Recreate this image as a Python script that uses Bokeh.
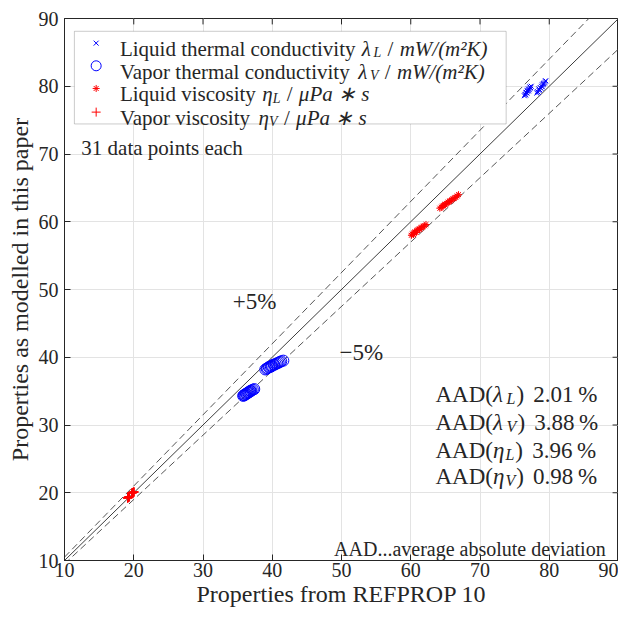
from bokeh.plotting import figure
from bokeh.models import Label, BoxAnnotation, FixedTicker
from bokeh.embed import file_html
from bokeh.resources import INLINE

# ---------------- data ----------------
ticks = [10, 20, 30, 40, 50, 60, 70, 80, 90]
line_x = [10, 90]
band_pos = 1.05
band_neg = 0.95

lam_L_ref = [76.4, 76.5, 76.6, 76.6, 76.7, 76.8, 76.8, 76.9, 77.0, 77.0, 77.1, 77.2, 77.2, 77.3, 77.4,
             78.2, 78.3, 78.4, 78.5, 78.5, 78.6, 78.7, 78.8, 78.9, 79.0, 79.0, 79.1, 79.2, 79.3, 79.4, 79.5]
lam_L_mod = [78.6, 78.8, 78.7, 79.0, 79.1, 79.0, 79.3, 79.4, 79.3, 79.6, 79.5, 79.7, 79.9, 79.8, 80.0,
             79.0, 79.2, 79.1, 79.4, 79.6, 79.5, 79.8, 79.7, 80.0, 79.9, 80.2, 80.3, 80.4, 80.5, 80.7, 80.8]

lam_V_ref = [35.8, 35.9, 36.0, 36.1, 36.2, 36.3, 36.4, 36.5, 36.6, 36.7, 36.8, 36.9, 37.0, 37.2, 37.4,
             39.0, 39.2, 39.3, 39.5, 39.6, 39.8, 39.9, 40.0, 40.2, 40.3, 40.5, 40.7, 40.9, 41.1, 41.3, 41.6]
lam_V_mod = [34.3, 34.4, 34.4, 34.5, 34.6, 34.6, 34.7, 34.8, 34.8, 34.9, 35.0, 35.0, 35.1, 35.2, 35.3,
             38.2, 38.3, 38.4, 38.5, 38.6, 38.6, 38.7, 38.8, 38.9, 38.9, 39.0, 39.1, 39.2, 39.3, 39.4, 39.5]

eta_L_ref = [60.1, 60.2, 60.4, 60.5, 60.6, 60.8, 60.9, 61.0, 61.2, 61.3, 61.5, 61.6, 61.8, 62.0, 62.2,
             64.2, 64.4, 64.6, 64.7, 64.9, 65.0, 65.2, 65.4, 65.6, 65.7, 65.9, 66.1, 66.3, 66.5, 66.7, 66.9]
eta_L_mod = [58.0, 58.2, 58.1, 58.4, 58.5, 58.4, 58.7, 58.8, 58.9, 58.9, 59.1, 59.2, 59.3, 59.4, 59.6,
             62.0, 62.1, 62.3, 62.4, 62.5, 62.6, 62.7, 62.9, 63.0, 63.1, 63.2, 63.4, 63.5, 63.6, 63.8, 64.0]

eta_V_ref = [19.10, 19.12, 19.15, 19.17, 19.20, 19.21, 19.24, 19.26, 19.28, 19.30, 19.31, 19.33, 19.35, 19.37, 19.40,
             19.70, 19.73, 19.76, 19.78, 19.80, 19.83, 19.85, 19.87, 19.90, 19.92, 19.94, 19.96, 19.98, 20.00, 20.03, 20.06]
eta_V_mod = [19.20, 19.22, 19.24, 19.26, 19.28, 19.29, 19.31, 19.33, 19.35, 19.36, 19.38, 19.40, 19.41, 19.43, 19.45,
             19.95, 19.97, 19.98, 20.00, 20.01, 20.02, 20.03, 20.04, 20.05, 20.06, 20.07, 20.08, 20.09, 20.10, 20.11, 20.12]

aad_symbols = ["λ", "λ", "η", "η"]
aad_subs = ["L", "V", "L", "V"]
aad_values = ["2.01", "3.88", "3.96", "0.98"]

FONT = "Liberation Serif"
BLUE = "#0000ff"
RED = "#ff0000"
GRAY = "#262626"

W, H = 618, 609
BL, BR, BT, BB = 64, 0, 18, 46

p = figure(width=W, height=H, x_range=(10, 90), y_range=(10, 90),
           output_backend="svg", toolbar_location=None,
           min_border_left=BL, min_border_right=BR, min_border_top=BT, min_border_bottom=BB)

# reference-image pixel -> data (reference frame: x 66..626, y 21..571)
def dx(px):
    return 10 + (px - 66) * 80.0 / 560.0
def dy(py):
    return 90 - (py - 21) * 80.0 / 550.0

# approximate Liberation Serif advance widths (per em)
REG = {" ": .25, "(": .333, ")": .333, "/": .278, ".": .25, "%": .833, "+": .564,
       "A": .722, "D": .722, "L": .611, "V": .722, "λ": .55, "η": .5}
ITA = {"L": .556, "V": .611, "λ": .55, "η": .5}
DEFAULT = {c: w for c, w in zip("abcdefghijklmnopqrstuvwxyz",
           [.444, .5, .444, .5, .444, .333, .5, .5, .278, .278, .5, .278, .778, .5, .5, .5, .5, .333, .389, .278, .5, .5, .722, .5, .5, .444])}
def tw(text, size, table=REG):
    tot = 0.0
    for ch in text:
        if ch in table:
            tot += table[ch]
        elif ch in DEFAULT:
            tot += DEFAULT[ch]
        elif ch.isdigit():
            tot += .5
        elif ch.isupper():
            tot += .667
        else:
            tot += .5
    return tot * size

# grid & axes
for ax in (p.xaxis, p.yaxis):
    ax.ticker = FixedTicker(ticks=ticks)
    ax.major_tick_in = 6
    ax.major_tick_out = 0
    ax.minor_tick_line_color = None
    ax.axis_line_color = GRAY
    ax.major_tick_line_color = GRAY
    ax.major_label_text_font = FONT
    ax.major_label_text_font_size = "20px"
    ax.major_label_text_color = GRAY
    ax.axis_label_text_font = FONT
    ax.axis_label_text_font_size = "24px"
    ax.axis_label_text_font_style = "normal"
    ax.axis_label_text_color = GRAY
p.xaxis.major_label_standoff = 2
p.xaxis.axis_label_standoff = 1
p.yaxis.major_label_standoff = 6
p.yaxis.axis_label_standoff = 3
p.xaxis.axis_label = "Properties from REFPROP 10"
p.yaxis.axis_label = "Properties as modelled in this paper"

p.grid.ticker = FixedTicker(ticks=ticks)
p.grid.grid_line_color = "#e3e3e3"
p.outline_line_color = GRAY

# inward ticks on the top and right edges of the box
tick_len_x = 6 * 80.0 / 560.0
tick_len_y = 6 * 80.0 / 550.0
p.segment(x0=ticks, y0=[90] * len(ticks), x1=ticks, y1=[90 - tick_len_y] * len(ticks),
          line_color=GRAY, line_width=1)
p.segment(x0=[90] * len(ticks), y0=ticks, x1=[90 - tick_len_x] * len(ticks), y1=ticks,
          line_color=GRAY, line_width=1)

# reference lines
p.line(line_x, line_x, line_color="#3c3c3c", line_width=1)
p.line(line_x, [band_pos * v for v in line_x], line_color="#555555", line_width=1, line_dash="7 4")
p.line(line_x, [band_neg * v for v in line_x], line_color="#555555", line_width=1, line_dash="7 4")

# data
p.scatter(lam_L_ref, lam_L_mod, marker="x", size=7, line_color=BLUE, line_width=1)
p.scatter(lam_V_ref, lam_V_mod, marker="circle", size=11, line_color=BLUE, fill_color=None, line_width=1)
p.scatter(eta_L_ref, eta_L_mod, marker="asterisk", size=7, line_color=RED, line_width=1)
p.scatter(eta_V_ref, eta_V_mod, marker="cross", size=9, line_color=RED, line_width=1)

def lab(text, px, py, size=21, style="normal", align="left", xoff=0):
    p.add_layout(Label(x=dx(px), y=dy(py), x_offset=xoff, text=text,
                       text_font=FONT, text_font_size="%dpx" % size, text_font_style=style,
                       text_align=align, text_baseline="alphabetic", text_color=GRAY))

# legend (manual, to keep italic symbols and subscripts)
LFS, LSUB = 21, 14
rows = [
    ("x", BLUE, 7, "Liquid thermal conductivity", "λ", "L", "mW/(m²K)"),
    ("circle", BLUE, 10, "Vapor thermal conductivity", "λ", "V", "mW/(m²K)"),
    ("asterisk", RED, 7, "Liquid viscosity", "η", "L", "μPa ∗ s"),
    ("cross", RED, 9, "Vapor viscosity", "η", "V", "μPa ∗ s"),
]
baselines = [52, 75, 98, 122]
x0 = 122
max_w = 0
for (mk, col, sz, name, sym, sub, unit), bl in zip(rows, baselines):
    r = p.scatter([dx(98)], [dy(bl - 6)], marker=mk, size=sz, line_color=col,
                  fill_color=None, line_width=1)
    r.level = "overlay"
    off = 0
    lab(name, x0, bl, size=LFS, xoff=off)
    off += tw(name, LFS) + 0.3 * LFS
    lab(sym, x0, bl, size=LFS, style="italic", xoff=off)
    off += tw(sym, LFS, ITA)
    lab(sub, x0, bl + 4, size=LSUB, style="italic", xoff=off)
    off += tw(sub, LSUB, ITA) + 0.3 * LFS
    lab("/", x0, bl, size=LFS, xoff=off)
    off += tw("/", LFS) + 0.3 * LFS
    lab(unit, x0, bl, size=LFS, style="italic", xoff=off)
    off += tw(unit, LFS, ITA)
    max_w = max(max_w, off)

p.add_layout(BoxAnnotation(left=dx(76), right=dx(x0 + max_w + 8), top=dy(34), bottom=dy(128),
                           fill_color="white", fill_alpha=1.0, line_color=GRAY, line_width=0.8,
                           level="annotation"))
# draw the box below the legend texts
p.center.insert(0, p.center.pop())

lab("31 data points each", 83, 152, size=21)
lab("+5%", 236, 308, size=23)
lab("−5%", 344, 360, size=23)

AFS, ASUB = 23, 16
aad_baselines = [403, 431, 459, 486]
for sym, sub, val, bl in zip(aad_symbols, aad_subs, aad_values, aad_baselines):
    off = 0
    lab("AAD(", 441, bl, size=AFS, xoff=off)
    off += tw("AAD(", AFS)
    lab(sym, 441, bl, size=AFS, style="italic", xoff=off)
    off += tw(sym, AFS, ITA) + 1
    lab(sub, 441, bl + 4, size=ASUB, style="italic", xoff=off)
    off += tw(sub, ASUB, ITA) + 1
    lab(")", 441, bl, size=AFS, xoff=off)
    off += tw(")", AFS) + 0.4 * AFS
    lab(val, 441, bl, size=AFS, xoff=off)
    off += tw(val, AFS) + 0.2 * AFS
    lab("%", 441, bl, size=AFS, xoff=off)

lab("AAD...average absolute deviation", 613, 559, size=20, align="right")

open("out.html", "w").write(file_html(p, INLINE))
